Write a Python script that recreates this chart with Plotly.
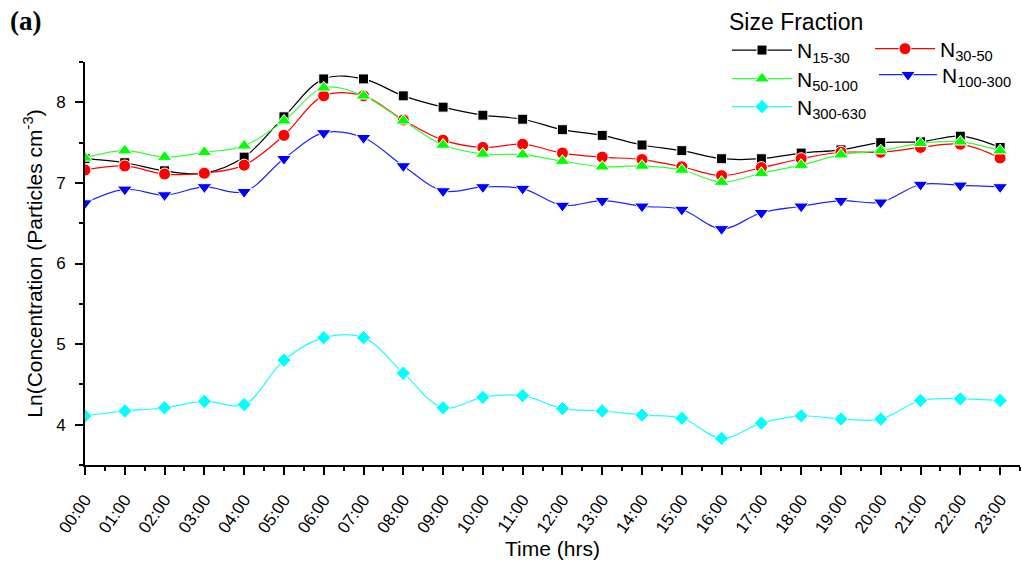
import plotly.graph_objects as go

# Hour of day (0-23) and tick labels
hours = list(range(24))
hour_labels = [f"{h:02d}:00" for h in hours]

# Ln(concentration) per size fraction
n15_30 = [7.30, 7.25, 7.15, 7.12, 7.32, 7.82, 8.29, 8.29, 8.08, 7.94, 7.84, 7.79,
          7.66, 7.59, 7.47, 7.40, 7.30, 7.30, 7.37, 7.41, 7.50, 7.51, 7.58, 7.44]
n30_50 = [7.16, 7.21, 7.11, 7.12, 7.22, 7.59, 8.08, 8.08, 7.78, 7.53, 7.44, 7.48,
          7.37, 7.32, 7.29, 7.20, 7.09, 7.19, 7.30, 7.38, 7.38, 7.44, 7.48, 7.31]
n50_100 = [7.31, 7.40, 7.32, 7.38, 7.46, 7.77, 8.18, 8.08, 7.77, 7.47, 7.36, 7.35,
           7.27, 7.20, 7.21, 7.16, 7.01, 7.12, 7.22, 7.35, 7.40, 7.49, 7.51, 7.40]
n100_300 = [6.75, 6.92, 6.85, 6.95, 6.89, 7.30, 7.62, 7.56, 7.21, 6.90, 6.95, 6.93,
            6.72, 6.78, 6.71, 6.67, 6.43, 6.63, 6.71, 6.78, 6.76, 6.98, 6.97, 6.95]
n300_630 = [4.11, 4.17, 4.21, 4.29, 4.25, 4.80, 5.08, 5.08, 4.64, 4.21, 4.34, 4.36,
            4.20, 4.17, 4.12, 4.08, 3.83, 4.02, 4.11, 4.07, 4.07, 4.30, 4.32, 4.30]

FONT = "Arial, Liberation Sans, sans-serif"

# name, values, line colour, marker colour, symbol, size, legend id
series = [
    ("N<sub>15-30</sub>", n15_30, "#000000", "#000000", "square", 10, "legend"),
    ("N<sub>30-50</sub>", n30_50, "#ff0000", "#ff0000", "circle", 12, "legend2"),
    ("N<sub>50-100</sub>", n50_100, "#33ff33", "#00ff00", "triangle-up", 13, "legend3"),
    ("N<sub>100-300</sub>", n100_300, "#2222ff", "#0000ff", "triangle-down", 13, "legend4"),
    ("N<sub>300-630</sub>", n300_630, "#22ffff", "#00ffff", "diamond", 11, "legend5"),
]

fig = go.Figure()
for name, vals, lcol, mcol, sym, size, leg in series:
    fig.add_trace(go.Scatter(
        x=hours, y=vals, name=name, mode="lines+markers",
        line=dict(color=lcol, width=1.2, shape="spline", smoothing=1.0),
        marker=dict(symbol=sym, size=size, color=mcol,
                    line=dict(color="white", width=1)),
        legend=leg,
    ))

axis_common = dict(
    showline=True, linecolor="black", linewidth=2,
    ticks="outside", tickcolor="black", tickwidth=2, ticklen=8,
    showgrid=False, zeroline=False, mirror=False,
    tickfont=dict(family=FONT, size=17, color="black"),
)

fig.update_xaxes(
    range=[0, 23.5], tickmode="array", tickvals=hours, ticktext=hour_labels,
    tickangle=-55, ticklabelstandoff=8,
    minor=dict(dtick=0.5, tick0=0, ticks="outside", ticklen=4, tickwidth=2,
               tickcolor="black"),
    title=dict(text="Time (hrs)", font=dict(family=FONT, size=21, color="black"),
               standoff=4),
    **axis_common,
)
fig.update_yaxes(
    range=[3.5, 8.5], tickmode="linear", tick0=4, dtick=1, ticklabelstandoff=6,
    minor=dict(dtick=0.5, tick0=3.5, ticks="outside", ticklen=4, tickwidth=2,
               tickcolor="black"),
    title=dict(text="Ln(Concentration (Particles cm<sup>-3</sup>)",
               font=dict(family=FONT, size=21, color="black"), standoff=8),
    **axis_common,
)

legend_common = dict(
    xref="container", yref="container", xanchor="left",
    bgcolor="rgba(0,0,0,0)", borderwidth=0,
    font=dict(family=FONT, size=21, color="black"),
    tracegroupgap=0, itemwidth=60,
)

W, H = 1022, 570
fig.update_layout(
    width=W, height=H,
    margin=dict(l=85, r=2, t=62, b=105, autoexpand=False),
    paper_bgcolor="white", plot_bgcolor="white",
    showlegend=True,
    legend=dict(x=727 / W, y=1 + 7 / H, yanchor="top",
                title=dict(text="Size Fraction",
                           font=dict(family=FONT, size=23, color="black")),
                **legend_common),
    legend2=dict(x=870 / W, y=1 - 49 / H, yanchor="middle", **legend_common),
    legend3=dict(x=727 / W, y=1 - 79 / H, yanchor="middle", **legend_common),
    legend4=dict(x=874 / W, y=1 - 75 / H, yanchor="middle",
                 **{**legend_common, "itemwidth": 58}),
    legend5=dict(x=727 / W, y=1 - 107 / H, yanchor="middle", **legend_common),
    annotations=[dict(
        text="<b>(a)</b>", xref="paper", yref="paper",
        x=-0.082, y=1.145, xanchor="left", yanchor="top", showarrow=False,
        font=dict(family="Liberation Serif, Times New Roman, serif", size=27,
                  color="black"),
    )],
)

fig.write_html("out.html")
